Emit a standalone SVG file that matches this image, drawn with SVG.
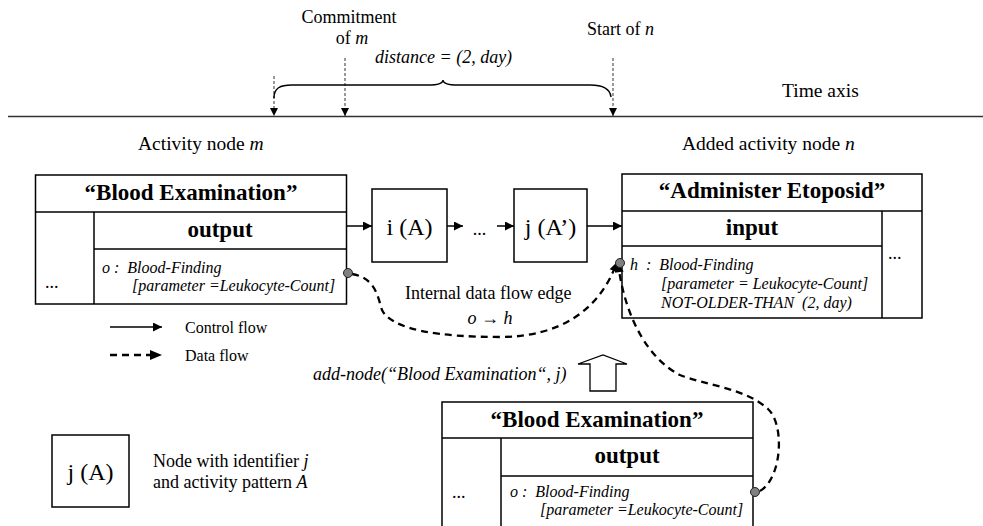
<svg xmlns="http://www.w3.org/2000/svg" width="983" height="526" viewBox="0 0 983 526">
<style>
text{font-family:"Liberation Serif","Times New Roman",serif;fill:#000;white-space:pre}
.b{font-weight:bold;font-size:23px}
.t18{font-size:18px}
.t20{font-size:19.5px}
.t16{font-size:16px}
.it{font-style:italic;font-size:16px}
.box{fill:#fff;stroke:#000;stroke-width:1.5}
.ln{stroke:#000;stroke-width:1.5;fill:none}
.cf{stroke:#000;stroke-width:1.5;fill:none;marker-end:url(#ah)}
.df{stroke:#000;stroke-width:2.3;fill:none;stroke-dasharray:7,5}
.tm{stroke:#555;stroke-width:1.2;fill:none;stroke-dasharray:3,2;marker-end:url(#ah2)}
.port{fill:#808080;stroke:#222;stroke-width:1}
</style>
<defs>
<marker id="ah" viewBox="0 0 10 10" refX="10" refY="5" markerWidth="6" markerHeight="6" orient="auto" markerUnits="strokeWidth"><path d="M0,0 L10,5 L0,10 z" fill="#000"/></marker>
<marker id="ah2" viewBox="0 0 10 10" refX="10" refY="5" markerWidth="7" markerHeight="8" orient="auto" markerUnits="strokeWidth"><path d="M0,0 L10,5 L0,10 z" fill="#000"/></marker>
<marker id="ah3" viewBox="0 0 10 10" refX="10" refY="5" markerWidth="4.5" markerHeight="4" orient="auto" markerUnits="strokeWidth"><path d="M0,0 L10,5 L0,10 z" fill="#000"/></marker>
</defs>

<g id="time-axis">
<line x1="8" y1="116.5" x2="983" y2="116.5" stroke="#333" stroke-width="1.5"/>
<line class="tm" x1="274" y1="76" x2="274" y2="116"/>
<line class="tm" x1="345" y1="58" x2="345" y2="116"/>
<line class="tm" x1="613" y1="58" x2="613" y2="116"/>
<path class="ln" stroke-width="1.3" d="M274,98 C274,88 280,85 292,85 L428,85 C438,85 443,83 443,80 C443,83 448,85 458,85 L590,85 C602,85 610,88 611,97"/>
<text class="t18" x="349" y="23" text-anchor="middle">Commitment</text>
<text class="t18" x="352" y="44" text-anchor="middle">of <tspan font-style="italic">m</tspan></text>
<text class="t18" x="375" y="63" font-style="italic">distance = (2, day)</text>
<text class="t18" x="587" y="35">Start of <tspan font-style="italic">n</tspan></text>
<text class="t20" x="782" y="97">Time axis</text>
<text class="t20" x="138" y="150">Activity node <tspan font-style="italic">m</tspan></text>
<text class="t20" x="682" y="150">Added activity node <tspan font-style="italic">n</tspan></text>
</g>

<g id="node-m">
<rect class="box" x="35.5" y="175" width="311" height="129"/>
<line class="ln" x1="35.5" y1="212" x2="346.5" y2="212"/>
<line class="ln" x1="94" y1="249" x2="346.5" y2="249"/>
<line class="ln" x1="94" y1="212" x2="94" y2="304"/>
<text class="b" x="191" y="200" text-anchor="middle">“Blood Examination”</text>
<text class="b" x="220" y="237" text-anchor="middle">output</text>
<text class="t18" x="45" y="288">...</text>
<text class="it" x="102" y="273">o :  Blood-Finding</text>
<text class="it" x="132" y="291">[parameter =Leukocyte-Count]</text>
</g>

<g id="node-i">
<rect class="box" x="372" y="189" width="75" height="73"/>
<text x="409.5" y="235" font-size="24" text-anchor="middle">i (A)</text>
</g>

<g id="node-dots">
<text x="479.5" y="235" font-size="18" text-anchor="middle">...</text>
</g>

<g id="node-j">
<rect class="box" x="514" y="189" width="73" height="73"/>
<text x="550.5" y="235" font-size="24" text-anchor="middle">j (A’)</text>
</g>

<g id="node-n">
<rect class="box" x="622" y="174" width="300" height="144"/>
<line class="ln" x1="622" y1="211" x2="922" y2="211"/>
<line class="ln" x1="622" y1="246" x2="882" y2="246"/>
<line class="ln" x1="882" y1="211" x2="882" y2="318"/>
<text class="b" x="772" y="198" text-anchor="middle">“Administer Etoposid”</text>
<text class="b" x="752" y="235" text-anchor="middle">input</text>
<text class="t18" x="888" y="259">...</text>
<text class="it" x="630" y="270">h  :  Blood-Finding</text>
<text class="it" x="661" y="289">[parameter = Leukocyte-Count]</text>
<text class="it" x="661" y="308">NOT-OLDER-THAN  (2, day)</text>
</g>

<g id="node-added">
<path class="ln" d="M442,530 L442,402 L753,402 L753,530"/>
<line class="ln" x1="442" y1="438" x2="753" y2="438"/>
<line class="ln" x1="501" y1="476" x2="753" y2="476"/>
<line class="ln" x1="501" y1="438" x2="501" y2="530"/>
<text class="b" x="597" y="427" text-anchor="middle">“Blood Examination”</text>
<text class="b" x="627" y="463" text-anchor="middle">output</text>
<text class="t18" x="452" y="498">...</text>
<text class="it" x="510" y="497">o :  Blood-Finding</text>
<text class="it" x="540" y="515">[parameter =Leukocyte-Count]</text>
</g>

<g id="operation">
<path d="M590,391 L590,364 L578,364 L603,355 L627,364 L616,364 L616,391 Z" fill="#fff" stroke="#000" stroke-width="1.3"/>
<text class="t18" x="313" y="380" font-style="italic">add-node(“Blood Examination“, j)</text>
</g>

<g id="legend">
<line class="cf" x1="110" y1="327" x2="162" y2="327" stroke-width="2"/>
<text class="t16" x="185" y="333">Control flow</text>
<line x1="110" y1="355" x2="153" y2="355" stroke="#000" stroke-width="2.5" stroke-dasharray="7,5"/>
<path d="M150,350 L162,355 L150,360 z" fill="#000"/>
<text class="t16" x="185" y="361">Data flow</text>
<rect class="box" x="52" y="435" width="77" height="72"/>
<text x="90.5" y="480" font-size="24" text-anchor="middle">j (A)</text>
<text class="t18" x="153" y="467">Node with identifier <tspan font-style="italic">j</tspan></text>
<text class="t18" x="153" y="488">and activity pattern <tspan font-style="italic">A</tspan></text>
</g>

<g id="connectors">
<line class="cf" x1="347" y1="226" x2="372" y2="226"/>
<line class="cf" x1="447" y1="226" x2="463" y2="226"/>
<line class="cf" x1="497" y1="226" x2="514" y2="226"/>
<line class="cf" x1="587" y1="226" x2="622" y2="226"/>
<path class="df" marker-end="url(#ah3)" d="M352,274 C376,278 378,298 382,310 C392,330 440,337 500,337 C560,337 600,310 617,262"/>
<path class="df" marker-end="url(#ah3)" d="M760,491 C782,478 785,425 768,409 C745,388 705,385 680,375 C650,360 625,320 618,263"/>
<circle class="port" cx="348" cy="273" r="4.5"/>
<circle class="port" cx="620" cy="263" r="4.5"/>
<circle class="port" cx="755" cy="492" r="4.5"/>
<text class="t18" x="405" y="299">Internal data flow edge</text>
<text class="t18" x="490" y="324" text-anchor="middle" font-style="italic">o → h</text>
</g>
</svg>
